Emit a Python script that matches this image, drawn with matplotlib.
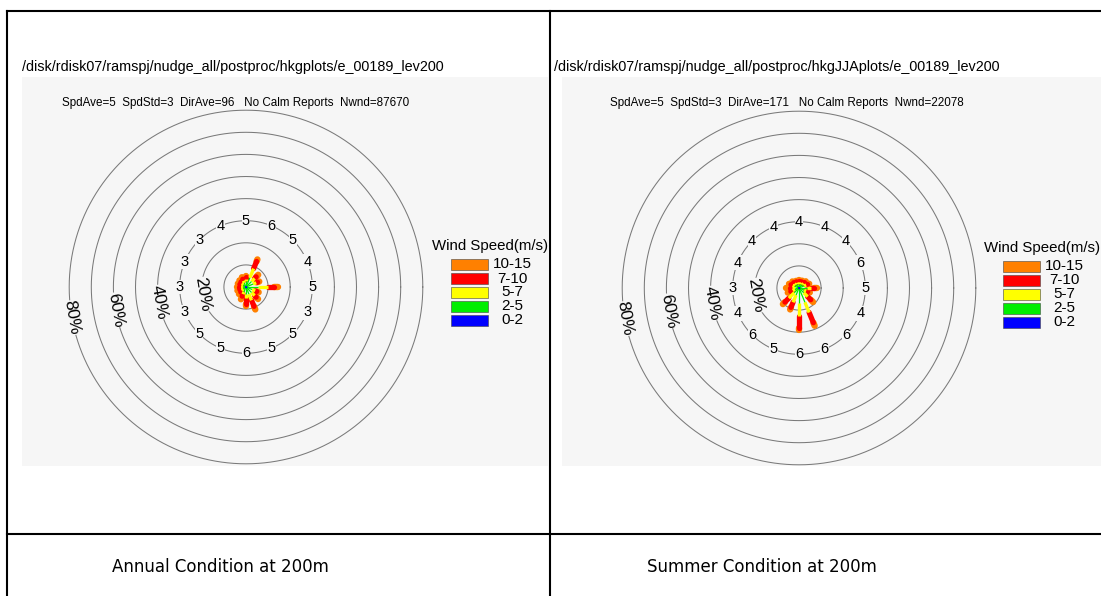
#!/usr/bin/env python3
# Two NCL-style wind roses side by side in a table, with captions below.
import matplotlib
matplotlib.use("Agg")
import matplotlib.pyplot as plt
from matplotlib.patches import Rectangle
from matplotlib.lines import Line2D
import numpy as np

W, H = 1101, 596

directions = ["N", "NNE", "NE", "ENE", "E", "ESE", "SE", "SSE",
              "S", "SSW", "SW", "WSW", "W", "WNW", "NW", "NNW"]
speed_classes = ["0-2", "2-5", "5-7", "7-10", "10-15"]
class_colors = ["#0000ff", "#00ee00", "#ffff00", "#ff0000", "#ff8000"]
class_widths = [0.5, 0.9, 2.4, 3.8, 4.6]

# percent frequency per direction for each speed class (m/s)
annual_0_2 = [0.3, 0.3, 0.3, 0.3, 0.3, 0.3, 0.3, 0.3, 0.3, 0.3, 0.3, 0.3, 0.3, 0.3, 0.3, 0.3]
annual_2_5 = [2.2, 4.2, 3.2, 3.2, 5.0, 2.7, 3.2, 3.2, 2.7, 2.2, 1.2, 1.2, 1.2, 1.2, 1.2, 1.7]
annual_5_7 = [1.0, 4.5, 2.0, 1.5, 4.7, 1.5, 2.0, 3.0, 2.0, 1.0, 1.0, 0.7, 0.7, 0.7, 1.0, 1.0]
annual_7_10 = [0.8, 3.5, 1.0, 0.7, 2.8, 0.8, 1.0, 3.0, 2.5, 1.0, 0.8, 0.8, 0.8, 0.8, 0.7, 0.8]
annual_10_15 = [0.9, 1.0, 1.3, 0.8, 1.7, 0.9, 1.2, 1.5, 1.3, 1.5, 1.2, 1.2, 1.2, 1.0, 1.0, 1.0]
annual_spd = [5, 6, 5, 4, 5, 3, 5, 5, 6, 5, 5, 3, 3, 3, 3, 4]

summer_0_2 = [0.3, 0.3, 0.3, 0.3, 0.3, 0.3, 0.3, 0.3, 0.3, 0.3, 0.3, 0.3, 0.3, 0.3, 0.3, 0.3]
summer_2_5 = [1.5, 1.5, 1.8, 2.2, 3.2, 2.2, 2.7, 6.7, 6.7, 3.2, 2.7, 1.7, 1.7, 1.8, 1.7, 1.5]
summer_5_7 = [0.7, 0.7, 0.8, 1.0, 2.0, 1.0, 2.5, 5.0, 5.5, 3.5, 3.5, 1.0, 1.0, 1.0, 0.8, 0.7]
summer_7_10 = [0.5, 0.5, 0.6, 0.7, 1.3, 0.8, 2.0, 5.0, 5.5, 2.5, 2.5, 1.0, 1.2, 0.8, 0.6, 0.5]
summer_10_15 = [0.5, 0.6, 0.8, 0.8, 1.2, 1.0, 1.5, 1.5, 1.0, 1.0, 1.3, 1.5, 1.6, 1.0, 0.8, 0.5]
summer_spd = [4, 4, 4, 6, 5, 4, 6, 6, 6, 5, 6, 4, 3, 4, 4, 4]

ring_pct = [10, 20, 30, 40, 50, 60, 70, 80]
ring_labels = {20: "20%", 40: "40%", 60: "60%", 80: "80%"}

panels = [
    dict(path="/disk/rdisk07/ramspj/nudge_all/postproc/hkgplots/e_00189_lev200",
         stats="SpdAve=5  SpdStd=3  DirAve=96   No Calm Reports  Nwnd=87670",
         caption="Annual Condition at 200m",
         freqs=[annual_0_2, annual_2_5, annual_5_7, annual_7_10, annual_10_15],
         spd=annual_spd,
         center=(246, 287), bg=(22, 77, 548, 466), path_x=22, stats_x=62,
         legend_x=451, legend_y=259, caption_x=220),
    dict(path="/disk/rdisk07/ramspj/nudge_all/postproc/hkgJJAplots/e_00189_lev200",
         stats="SpdAve=5  SpdStd=3  DirAve=171   No Calm Reports  Nwnd=22078",
         caption="Summer Condition at 200m",
         freqs=[summer_0_2, summer_2_5, summer_5_7, summer_7_10, summer_10_15],
         spd=summer_spd,
         center=(799, 288), bg=(562, 77, 1101, 466), path_x=554, stats_x=610,
         legend_x=1003, legend_y=261, caption_x=762),
]

PX_PER_PCT = 2.21
BG = "#f6f6f6"
FONT = "Liberation Sans"


def fx(x):
    return x / W


def fy(y):
    return 1 - y / H


def draw_rose(fig, p):
    cx, cy = p["center"]
    half = 220
    ax = fig.add_axes([fx(cx - half), fy(cy + half), 2 * half / W, 2 * half / H])
    ax.set_xlim(-half / PX_PER_PCT, half / PX_PER_PCT)
    ax.set_ylim(-half / PX_PER_PCT, half / PX_PER_PCT)
    ax.set_axis_off()
    ax.patch.set_alpha(0)
    ax.set_zorder(1)

    t = np.linspace(0, 2 * np.pi, 361)
    for r in ring_pct:
        ax.plot(r * np.cos(t), r * np.sin(t), color="#7a7a7a", lw=0.75, zorder=1)
        if r in ring_labels:
            a = np.deg2rad(190)
            ax.text(r * np.cos(a), r * np.sin(a), ring_labels[r], rotation=-80,
                    ha="center", va="center", fontsize=12.5, family=FONT,
                    rotation_mode="anchor", zorder=3,
                    bbox=dict(facecolor=BG, edgecolor="none", pad=0.1))

    theta = np.deg2rad(np.arange(16) * 22.5)
    cum = np.cumsum(np.array(p["freqs"]), axis=0)
    start = np.vstack([np.zeros(16), cum[:-1]])
    # outer classes first so the thinner inner ones sit on top
    for k in range(len(speed_classes) - 1, -1, -1):
        for d in range(16):
            r0, r1 = start[k, d], cum[k, d]
            ax.plot([r0 * np.sin(theta[d]), r1 * np.sin(theta[d])],
                    [r0 * np.cos(theta[d]), r1 * np.cos(theta[d])],
                    color=class_colors[k], lw=class_widths[k],
                    solid_capstyle="round" if k >= 3 else "butt", zorder=4)

    for d in range(16):
        ax.text(30 * np.sin(theta[d]), 30 * np.cos(theta[d]), str(p["spd"][d]),
                ha="center", va="center", fontsize=10.5, family=FONT, zorder=3,
                bbox=dict(facecolor=BG, edgecolor="none", pad=0.2))
    return ax


fig = plt.figure(figsize=(W / 100, H / 100), dpi=100)

for p in panels:
    x0, y0, x1, y1 = p["bg"]
    fig.patches.append(Rectangle((fx(x0), fy(y1)), (x1 - x0) / W, (y1 - y0) / H,
                                 transform=fig.transFigure, facecolor=BG,
                                 edgecolor="none", zorder=-5))
    fig.text(fx(p["path_x"]), fy(67), p["path"], fontsize=10.4, family=FONT,
             ha="left", va="center")
    fig.text(fx(p["stats_x"]), fy(103), p["stats"], fontsize=8.4, family=FONT,
             ha="left", va="center")
    draw_rose(fig, p)

    # legend
    lx, ly = p["legend_x"], p["legend_y"]
    fig.text(fx(lx + 39), fy(ly - 13), "Wind Speed(m/s)", fontsize=10.8,
             family=FONT, ha="center", va="center", zorder=3)
    for i, k in enumerate(range(len(speed_classes) - 1, -1, -1)):
        top = ly + i * 14
        fig.patches.append(Rectangle((fx(lx), fy(top + 11)), 37 / W, 11 / H,
                                     transform=fig.transFigure,
                                     facecolor=class_colors[k],
                                     edgecolor="#444444", lw=0.4, zorder=2))
        fig.text(fx(lx + 61), fy(top + 5.5), speed_classes[k], fontsize=11,
                 family=FONT, ha="center", va="center", zorder=3)

    fig.text(fx(p["caption_x"]), fy(567), p["caption"], fontsize=12,
             family="DejaVu Sans", ha="center", va="center")

# table grid
for xs, ys in [((7, 1101), (11, 11)), ((7, 7), (11, 596)),
               ((550, 550), (11, 596)), ((7, 1101), (534, 534))]:
    fig.add_artist(Line2D([fx(xs[0]), fx(xs[1])], [fy(ys[0]), fy(ys[1])],
                          color="black", lw=1.5, transform=fig.transFigure,
                          zorder=5))

fig.savefig("out.png", dpi=100)
